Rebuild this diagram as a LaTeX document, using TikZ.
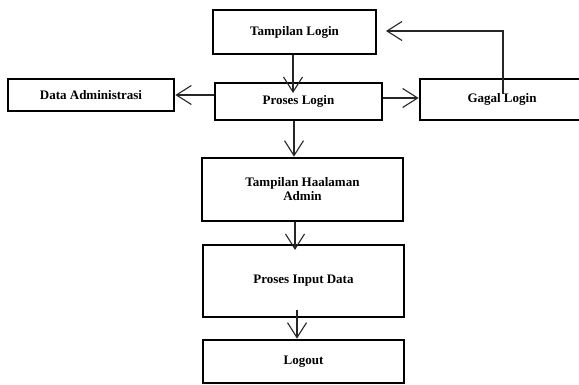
\documentclass[tikz,border=0pt]{standalone}
\usepackage{fontspec}
\setmainfont{Liberation Serif}
\usetikzlibrary{arrows.meta}
\begin{document}
\begin{tikzpicture}[x=1pt,y=-1pt,
  box/.style={draw=black,line width=2.7pt,fill=white,inner sep=0pt,align=center,
    font=\fontsize{13}{14}\selectfont\bfseries},
  conn/.style={draw=black!85,line width=1.2pt,-{Straight Barb[length=15pt,width=19pt,line width=1.1pt]}}]
\clip (0,0) rectangle (579,385);
\fill[white] (0,0) rectangle (579,385);
\node[box,minimum width=163pt,minimum height=44pt] (tl) at (294.5,32) {Tampilan Login};
\node[box,minimum width=166pt,minimum height=32pt] (da) at (91,95) {Data Administrasi};
\node[box,minimum width=167pt,minimum height=37pt] (pl) at (298.5,101.5) {Proses Login};
\node[box,minimum width=164pt,minimum height=41pt] (gl) at (502,99.5) {Gagal Login};
\node[box,minimum width=201pt,minimum height=63pt] (tha) at (302.5,189.5) {Tampilan Haalaman\\Admin};
\node[box,minimum width=201pt,minimum height=72pt] (pid) at (303.5,281) {Proses Input Data};
\node[box,minimum width=201pt,minimum height=43pt] (lo) at (303.5,361.5) {Logout};
\coordinate (c1) at (293,93);
\coordinate (c4a) at (503,94);
\coordinate (c4b) at (503,31);
\coordinate (c4c) at (386,31);
\coordinate (c6) at (295,250);
\coordinate (c7a) at (297,310);
\draw[conn] (tl.south -| c1) -- (c1);
\draw[conn] (pl.west |- da) -- (da.east);
\draw[conn] (pl.east |- 0,98) -- (gl.west |- 0,98);
\draw[conn] (c4a) -- (c4b) -- (c4c);
\draw[conn] (pl.south -| 294,0) -- (tha.north -| 294,0);
\draw[conn] (tha.south -| c6) -- (c6);
\draw[conn] (c7a) -- (lo.north -| c7a);
\end{tikzpicture}
\end{document}
